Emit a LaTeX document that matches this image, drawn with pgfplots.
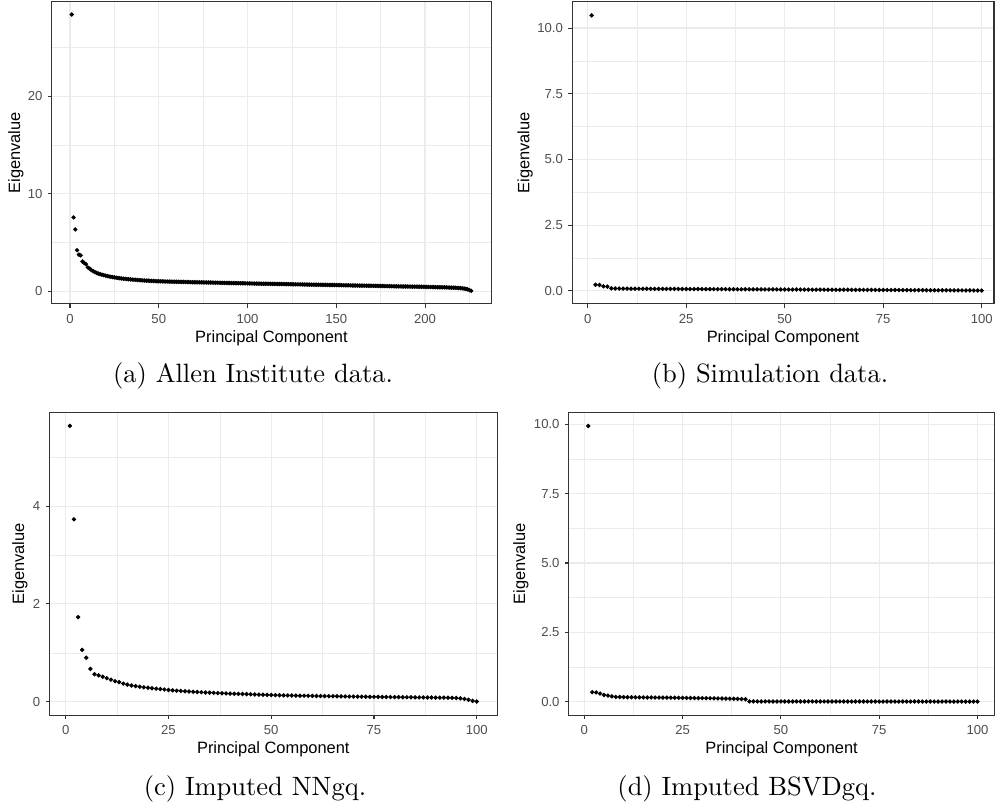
\documentclass[border=0pt]{standalone}
\usepackage{fontspec}
\setsansfont{Liberation Sans}
\usepackage{pgfplots}
\pgfplotsset{compat=1.18}

\definecolor{gg20}{HTML}{333333}
\definecolor{gg30}{HTML}{4D4D4D}
\definecolor{gg92}{HTML}{EBEBEB}

\pgfplotsset{
  gg/.style={
    scale only axis, anchor=south west,
    axis line style={draw=gg20, line width=0.45bp},
    tick align=outside, tick pos=left,
    major tick length=1.4bp, minor tick length=0pt,
    every tick/.style={draw=gg20, line width=0.4bp},
    grid=both,
    major grid style={draw=gg92, line width=0.42bp},
    minor grid style={draw=gg92, line width=0.21bp},
    ticklabel style={font=\fontsize{4.95}{6}\selectfont\sffamily, text=gg30},
    /pgf/number format/assume math mode=true,
    xticklabel style={anchor=north, inner sep=0pt, yshift=-2.2bp},
    yticklabel style={anchor=east, inner sep=0pt, xshift=-1.9bp},
    xlabel={Principal Component}, ylabel={Eigenvalue},
    every axis x label/.style={at={([yshift=-12.9bp]axis description cs:0.5,0)}, anchor=center,
      font=\fontsize{6.2}{7}\selectfont\sffamily},
    every axis y label/.style={at={(axis description cs:0,0.5)}, anchor=center, rotate=90,
      font=\fontsize{6.2}{7}\selectfont\sffamily},
    pts/.style={only marks, mark=*, mark size=0.6bp, black},
  }
}

\begin{document}
\begin{tikzpicture}[x=0.376bp,y=0.376bp]
\useasboundingbox (0,0) rectangle (995,811);

% (a) Allen Institute data
\begin{axis}[gg, at={(19.48bp,190.67bp)}, width=165.2bp, height=113.6bp,
  xmin=-10.25, xmax=237.25, ymin=-1.3, ymax=29.7,
  xtick={0,50,100,150,200}, minor xtick={25,75,125,175,225},
  ytick={0,10,20}, minor ytick={5,15,25},
  ylabel style={at={([xshift=-13.5bp]axis description cs:0,0.5)}}]
\addplot[pts] coordinates {
(1,28.40) (2,7.57) (3,6.34) (4,4.21) (5,3.75) (6,3.68) (7,3.05) (8,2.90) (9,2.78) (10,2.45)
(11,2.32) (12,2.18) (13,2.06) (14,1.96) (15,1.88) (16,1.81) (17,1.75) (18,1.70) (19,1.65) (20,1.60)
(21,1.56) (22,1.52) (23,1.48) (24,1.45) (25,1.42) (26,1.39) (27,1.36) (28,1.34) (29,1.31) (30,1.29)
(31,1.27) (32,1.25) (33,1.23) (34,1.21) (35,1.20) (36,1.18) (37,1.17) (38,1.15) (39,1.14) (40,1.13)
(41,1.11) (42,1.10) (43,1.09) (44,1.08) (45,1.07) (46,1.06) (47,1.05) (48,1.04) (49,1.03) (50,1.02)
(51,1.014) (52,1.009) (53,1.004) (54,0.999) (55,0.994) (56,0.989) (57,0.984) (58,0.979) (59,0.974) (60,0.970)
(61,0.965) (62,0.961) (63,0.956) (64,0.952) (65,0.947) (66,0.943) (67,0.938) (68,0.934) (69,0.930) (70,0.926)
(71,0.921) (72,0.917) (73,0.913) (74,0.909) (75,0.905) (76,0.900) (77,0.896) (78,0.892) (79,0.888) (80,0.884)
(81,0.880) (82,0.876) (83,0.872) (84,0.868) (85,0.864) (86,0.860) (87,0.856) (88,0.852) (89,0.848) (90,0.844)
(91,0.840) (92,0.836) (93,0.832) (94,0.828) (95,0.824) (96,0.820) (97,0.816) (98,0.812) (99,0.808) (100,0.804)
(101,0.800) (102,0.796) (103,0.793) (104,0.789) (105,0.786) (106,0.782) (107,0.779) (108,0.775) (109,0.772) (110,0.768)
(111,0.765) (112,0.761) (113,0.758) (114,0.754) (115,0.751) (116,0.747) (117,0.744) (118,0.740) (119,0.737) (120,0.733)
(121,0.730) (122,0.726) (123,0.723) (124,0.719) (125,0.716) (126,0.712) (127,0.709) (128,0.705) (129,0.702) (130,0.698)
(131,0.695) (132,0.691) (133,0.688) (134,0.684) (135,0.681) (136,0.677) (137,0.674) (138,0.670) (139,0.667) (140,0.663)
(141,0.660) (142,0.656) (143,0.653) (144,0.649) (145,0.646) (146,0.642) (147,0.639) (148,0.635) (149,0.632) (150,0.628)
(151,0.624) (152,0.621) (153,0.617) (154,0.613) (155,0.610) (156,0.606) (157,0.602) (158,0.599) (159,0.595) (160,0.591)
(161,0.588) (162,0.584) (163,0.580) (164,0.577) (165,0.573) (166,0.569) (167,0.566) (168,0.562) (169,0.558) (170,0.555)
(171,0.551) (172,0.547) (173,0.544) (174,0.540) (175,0.536) (176,0.533) (177,0.529) (178,0.525) (179,0.522) (180,0.518)
(181,0.514) (182,0.511) (183,0.507) (184,0.503) (185,0.500) (186,0.496) (187,0.492) (188,0.489) (189,0.485) (190,0.481)
(191,0.478) (192,0.474) (193,0.470) (194,0.467) (195,0.463) (196,0.459) (197,0.456) (198,0.452) (199,0.448) (200,0.445)
(201,0.441) (202,0.437) (203,0.433) (204,0.429) (205,0.425) (206,0.420) (207,0.416) (208,0.411) (209,0.406) (210,0.401)
(211,0.395) (212,0.389) (213,0.383) (214,0.376) (215,0.368) (216,0.360) (217,0.351) (218,0.341) (219,0.330) (220,0.317)
(221,0.302) (222,0.275) (223,0.240) (224,0.195) (225,0.120) (226,0.040)
};
\end{axis}

% (b) Simulation data
\begin{axis}[gg, at={(215.11bp,190.67bp)}, width=158.6bp, height=113.6bp,
  xmin=-3.95, xmax=103.1, ymin=-0.5, ymax=11.0,
  xtick={0,25,50,75,100}, minor xtick={12.5,37.5,62.5,87.5},
  ytick={0,2.5,5,7.5,10}, yticklabels={0.0,2.5,5.0,7.5,10.0},
  minor ytick={1.25,3.75,6.25,8.75},
  ylabel style={at={([xshift=-17.7bp]axis description cs:0,0.5)}}]
\addplot[pts] coordinates {
(1,10.48) (2,0.23) (3,0.22) (4,0.17) (5,0.16) (6,0.090) (7,0.085) (8,0.083) (9,0.081) (10,0.080)
(11,0.079) (12,0.078) (13,0.077) (14,0.076) (15,0.075) (16,0.074) (17,0.073) (18,0.073) (19,0.072) (20,0.071)
(21,0.070) (22,0.069) (23,0.069) (24,0.068) (25,0.067) (26,0.066) (27,0.065) (28,0.065) (29,0.064) (30,0.063)
(31,0.062) (32,0.062) (33,0.061) (34,0.060) (35,0.059) (36,0.059) (37,0.058) (38,0.057) (39,0.056) (40,0.056)
(41,0.055) (42,0.054) (43,0.053) (44,0.053) (45,0.052) (46,0.051) (47,0.050) (48,0.050) (49,0.049) (50,0.048)
(51,0.047) (52,0.047) (53,0.046) (54,0.045) (55,0.044) (56,0.044) (57,0.043) (58,0.042) (59,0.041) (60,0.041)
(61,0.040) (62,0.039) (63,0.038) (64,0.038) (65,0.037) (66,0.036) (67,0.035) (68,0.035) (69,0.034) (70,0.033)
(71,0.032) (72,0.032) (73,0.031) (74,0.030) (75,0.029) (76,0.029) (77,0.028) (78,0.027) (79,0.026) (80,0.026)
(81,0.025) (82,0.024) (83,0.023) (84,0.023) (85,0.022) (86,0.021) (87,0.020) (88,0.020) (89,0.019) (90,0.018)
(91,0.017) (92,0.017) (93,0.016) (94,0.015) (95,0.014) (96,0.013) (97,0.012) (98,0.011) (99,0.010) (100,0.008)
};
\end{axis}

% (c) Imputed NNgq
\begin{axis}[gg, at={(18.61bp,35.95bp)}, width=168.3bp, height=114.0bp,
  xmin=-3.95, xmax=104.95, ymin=-0.28, ymax=5.92,
  xtick={0,25,50,75,100}, minor xtick={12.5,37.5,62.5,87.5},
  ytick={0,2,4}, minor ytick={1,3,5},
  ylabel style={at={([xshift=-11.1bp]axis description cs:0,0.5)}}]
\addplot[pts] coordinates {
(1,5.64) (2,3.73) (3,1.73) (4,1.06) (5,0.90) (6,0.67) (7,0.56) (8,0.54) (9,0.51) (10,0.48)
(11,0.45) (12,0.42) (13,0.40) (14,0.37) (15,0.35) (16,0.33) (17,0.32) (18,0.305) (19,0.295) (20,0.285)
(21,0.275) (22,0.265) (23,0.258) (24,0.250) (25,0.240) (26,0.233) (27,0.226) (28,0.220) (29,0.214) (30,0.208)
(31,0.203) (32,0.198) (33,0.193) (34,0.189) (35,0.185) (36,0.181) (37,0.177) (38,0.173) (39,0.170) (40,0.166)
(41,0.163) (42,0.160) (43,0.157) (44,0.154) (45,0.151) (46,0.148) (47,0.145) (48,0.142) (49,0.139) (50,0.136)
(51,0.134) (52,0.132) (53,0.130) (54,0.128) (55,0.126) (56,0.125) (57,0.123) (58,0.122) (59,0.120) (60,0.119)
(61,0.117) (62,0.116) (63,0.114) (64,0.113) (65,0.112) (66,0.110) (67,0.109) (68,0.108) (69,0.106) (70,0.105)
(71,0.104) (72,0.102) (73,0.101) (74,0.100) (75,0.099) (76,0.098) (77,0.097) (78,0.096) (79,0.095) (80,0.094)
(81,0.093) (82,0.092) (83,0.091) (84,0.090) (85,0.089) (86,0.088) (87,0.087) (88,0.086) (89,0.085) (90,0.084)
(91,0.083) (92,0.082) (93,0.080) (94,0.078) (95,0.075) (96,0.068) (97,0.056) (98,0.040) (99,0.018) (100,0.004)
};
\end{axis}

% (d) Imputed BSVDgq
\begin{axis}[gg, at={(213.87bp,35.95bp)}, width=160.0bp, height=114.0bp,
  xmin=-3.95, xmax=104.3, ymin=-0.497, ymax=10.44,
  xtick={0,25,50,75,100}, minor xtick={12.5,37.5,62.5,87.5},
  ytick={0,2.5,5,7.5,10}, yticklabels={0.0,2.5,5.0,7.5,10.0},
  minor ytick={1.25,3.75,6.25,8.75},
  ylabel style={at={([xshift=-18bp]axis description cs:0,0.5)}}]
\addplot[pts] coordinates {
(1,9.94) (2,0.34) (3,0.33) (4,0.29) (5,0.24) (6,0.22) (7,0.19) (8,0.17) (9,0.165) (10,0.160)
(11,0.158) (12,0.156) (13,0.155) (14,0.153) (15,0.152) (16,0.150) (17,0.149) (18,0.147) (19,0.146) (20,0.144)
(21,0.143) (22,0.141) (23,0.139) (24,0.138) (25,0.136) (26,0.134) (27,0.132) (28,0.130) (29,0.128) (30,0.126)
(31,0.124) (32,0.121) (33,0.119) (34,0.116) (35,0.113) (36,0.110) (37,0.106) (38,0.102) (39,0.098) (40,0.093)
(41,0.088) (42,0.006) (43,0.006) (44,0.006) (45,0.006) (46,0.006) (47,0.005) (48,0.005) (49,0.005) (50,0.005)
(51,0.005) (52,0.005) (53,0.005) (54,0.005) (55,0.005) (56,0.005) (57,0.005) (58,0.005) (59,0.004) (60,0.004)
(61,0.004) (62,0.004) (63,0.004) (64,0.004) (65,0.004) (66,0.004) (67,0.004) (68,0.004) (69,0.004) (70,0.004)
(71,0.004) (72,0.004) (73,0.003) (74,0.003) (75,0.003) (76,0.003) (77,0.003) (78,0.003) (79,0.003) (80,0.003)
(81,0.003) (82,0.003) (83,0.003) (84,0.003) (85,0.003) (86,0.003) (87,0.002) (88,0.002) (89,0.002) (90,0.002)
(91,0.002) (92,0.002) (93,0.002) (94,0.002) (95,0.002) (96,0.002) (97,0.002) (98,0.001) (99,0.001) (100,0.001)
};
\end{axis}

\begin{scope}[font=\fontsize{10}{12}\selectfont]
\node at (253,435) {(a) Allen Institute data.};
\node at (770,435) {(b) Simulation data.};
\node at (255,22) {(c) Imputed NNgq.};
\node at (747,22) {(d) Imputed BSVDgq.};
\end{scope}
\end{tikzpicture}
\end{document}
